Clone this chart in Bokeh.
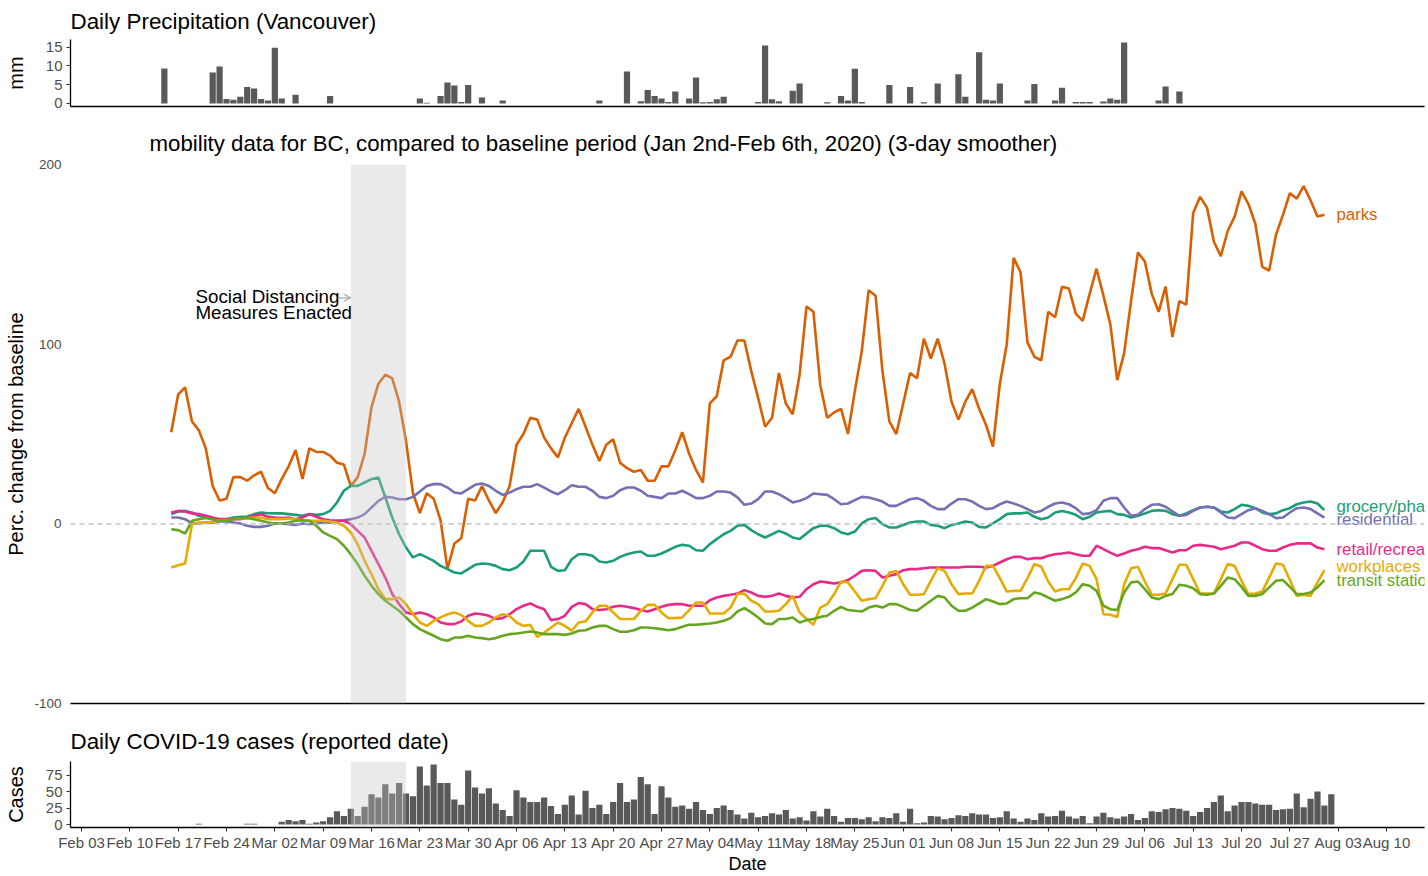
import pandas as pd
from bokeh.plotting import figure
from bokeh.layouts import column
from bokeh.models import Range1d, FixedTicker, BoxAnnotation, Span, Arrow, OpenHead
from bokeh.core.properties import value
from bokeh.embed import file_html
from bokeh.resources import INLINE

FONT = "Liberation Sans"

# ---------------- data ----------------
precip_start = "2020-02-15"
precip_mm = [
    9.3, 0, 0, 0, 0, 0, 0, 8.2, 9.8, 1.2,
    1.0, 1.8, 4.4, 4.0, 1.2, 0.8, 14.8, 1.3, 0, 2.3,
    0, 0, 0, 0, 2.0, 0, 0, 0, 0, 0,
    0, 0, 0, 0, 0, 0, 0, 1.3, 0.2, 0,
    2.0, 5.6, 4.8, 0.4, 4.9, 0, 1.6, 0, 0, 0.8,
    0, 0, 0, 0, 0, 0, 0, 0, 0, 0,
    0, 0, 0, 0.8, 0, 0, 0, 8.5, 0, 0.6,
    3.6, 2.0, 1.3, 0.4, 3.2, 0, 1.3, 6.9, 0.3, 0.4,
    1.1, 1.8, 0, 0, 0, 0, 0.4, 15.4, 1.1, 0.6,
    0, 3.4, 5.3, 0, 0, 0, 0.3, 0, 2.0, 0.8,
    9.2, 0.4, 0, 0, 0, 4.9, 0, 0, 4.4, 0,
    0.3, 0, 5.3, 0, 0, 7.8, 1.8, 0, 13.6, 1.0,
    0.8, 5.3, 0, 0, 0, 0.8, 5.2, 0, 0, 0.8,
    4.2, 0, 0.4, 0.4, 0.4, 0, 0.5, 1.3, 1.0, 16.2,
    0, 0, 0, 0, 0.8, 4.5, 0, 3.2,
]

cases_start = "2020-02-20"
cases = [
    1, 0, 0, 0, 0, 0, 0, 1, 1, 0,
    0, 0, 4, 7, 5, 7, 1, 3, 5, 11,
    20, 13, 24, 13, 27, 46, 41, 61, 47, 63,
    47, 43, 88, 59, 91, 63, 63, 38, 30, 82,
    56, 47, 55, 32, 22, 13, 52, 41, 34, 34,
    41, 28, 16, 30, 44, 15, 51, 25, 30, 16,
    34, 63, 34, 38, 72, 61, 16, 58, 41, 27,
    29, 24, 34, 22, 16, 25, 29, 22, 15, 9,
    18, 11, 13, 17, 15, 22, 9, 11, 6, 20,
    12, 24, 13, 4, 10, 10, 8, 11, 5, 11,
    10, 17, 4, 24, 2, 3, 13, 12, 8, 10,
    14, 13, 17, 15, 15, 10, 11, 20, 9, 4,
    9, 7, 17, 12, 13, 21, 12, 9, 13, 2,
    12, 18, 11, 9, 12, 16, 7, 10, 20, 19,
    23, 25, 24, 21, 13, 19, 25, 34, 44, 20,
    29, 34, 34, 32, 30, 30, 22, 23, 24, 47,
    26, 39, 50, 29, 46,
]

mobility_start = "2020-02-16"
parks = [
    51, 72, 76, 57, 52, 42, 21, 13, 14, 26, 26, 24, 27, 29, 20, 17, 25, 32, 41, 25,
    42, 40, 40, 38, 34, 33, 21, 26, 39, 65, 78, 83, 81, 68, 46, 17, 6, 17, 14, 2,
    -25, -11,
    -8, 14, 13, 21, 13, 6, 12, 21, 44, 50, 59, 58, 48, 42, 37, 48, 56, 64, 54, 44,
    35, 44, 47, 34, 31, 29, 30, 24, 24, 32, 32, 41, 51, 39, 30, 23, 67, 71, 91, 93,
    102, 102, 85,
    70, 54, 59, 84, 67, 61, 83, 121, 118, 77, 59, 62, 64, 50, 74, 96, 130, 127, 85, 57,
    50, 67, 84, 81, 103, 92, 103, 89, 68, 58, 68, 75, 64, 55, 43, 78, 100, 148, 140, 101,
    93, 91,
    118, 115, 132, 131, 117, 113, 128, 142, 127, 111, 80, 95, 124, 151, 146, 128, 118, 132, 104, 124,
    122, 173, 182, 176, 157, 149, 163, 171, 185, 178, 167, 143, 141, 161, 172, 184, 181, 188, 180, 171,
    172,
]
grocery = [
    5.4, 6.9, 7.2, 6.3, 4.5, 3.5, 2.6, 2.0, 2.6, 3.5, 3.9, 4.1, 5.4, 6.3, 5.9, 5.8, 5.8, 5.4, 5.0, 4.5,
    5.4, 5.0, 5.4, 7.2, 11.9, 18.4, 21.1, 21.1, 23.0, 24.9, 25.8, 14.7, 3.5, -5.8, -13.2, -18.7, -16.9, -18.7, -20.6, -23.4,
    -25.2, -27.1,
    -27.6, -25.2, -22.8, -22.1, -22.4, -23.4, -25.2, -25.8, -24.3, -21.0, -15.0, -15.0, -15.0, -23.9, -26.2, -25.8, -19.7, -16.9, -16.9, -17.8,
    -21.0, -21.5, -20.6, -18.4, -16.9, -16.0, -15.4, -17.8, -17.8, -16.5, -14.7, -12.8, -11.7, -12.2, -14.7, -15.0, -11.3, -8.5, -5.8, -3.9,
    -1.1, -0.6, -3.5,
    -5.8, -7.6, -5.8, -3.9, -5.4, -7.6, -8.5, -5.4, -2.4, -1.1, -1.1, -2.4, -4.8, -5.8, -4.3, 0.2, 2.6, 3.2, -0.2, -2.0,
    -2.0, -0.6, 0.7, 1.3, 1.3, -0.6, -1.1, -2.4, -0.6, 0.2, 1.3, 0.7, -1.7, -2.0, 0.2, 2.6, 5.4, 5.8, 5.8, 6.3,
    3.9, 2.6,
    3.5, 6.3, 7.2, 6.3, 5.0, 2.6, 3.9, 6.3, 6.9, 7.2, 5.4, 5.0, 3.5, 4.5, 5.8, 7.2, 7.6, 7.2, 5.4, 4.5,
    5.8, 7.6, 9.1, 9.5, 9.1, 6.9, 6.3, 8.2, 10.6, 10.0, 8.7, 6.3, 5.4, 5.8, 7.6, 8.7, 10.9, 11.9, 12.4, 11.3,
    7.6,
]
residential = [
    3.5, 3.5, 2.6, 0.2, 0.2, 0.7, 0.7, 1.3, 1.3, 0.7, 0.2, -1.1, -1.7, -1.7, -1.1, 0.2, 0.2, -0.2, -0.6, 0.2,
    -0.2, 0.2, 0.7, 0.7, 1.7, 2.0, 2.6, 3.5, 5.4, 9.1, 12.8, 15.0, 14.7, 13.7, 13.7, 15.0, 18.0, 21.1, 22.1, 22.1,
    20.2, 17.4,
    16.9, 19.3, 21.7, 22.4, 21.1, 18.4, 16.1, 17.4, 19.3, 20.6, 20.6, 22.1, 20.2, 18.0, 16.5, 18.7, 21.5, 20.6, 20.6, 18.4,
    15.0, 14.3, 15.6, 18.7, 20.2, 20.2, 18.4, 15.6, 15.0, 14.3, 16.9, 16.9, 18.4, 16.5, 14.3, 14.3, 15.6, 18.0, 18.0, 17.4,
    14.7, 10.6, 11.3,
    13.7, 18.0, 18.0, 16.5, 14.3, 11.9, 12.8, 14.3, 16.9, 16.5, 16.1, 13.7, 10.9, 11.3, 13.2, 15.0, 14.7, 13.7, 12.4, 10.0,
    10.0, 11.9, 13.7, 14.3, 12.8, 10.0, 8.2, 8.2, 11.3, 13.7, 13.7, 12.4, 10.0, 8.2, 8.7, 10.9, 12.4, 11.3, 10.0, 8.2,
    6.3, 7.2,
    9.5, 11.3, 11.9, 10.9, 8.7, 5.4, 5.8, 7.6, 12.8, 14.3, 14.3, 9.1, 4.5, 5.0, 8.2, 10.6, 10.9, 9.5, 6.9, 4.5,
    5.0, 7.2, 9.1, 9.5, 9.1, 6.3, 3.5, 3.2, 5.4, 7.6, 8.7, 7.2, 5.4, 3.2, 3.5, 6.3, 8.7, 9.1, 8.2, 5.8,
    3.5,
]
retail = [
    6.3, 7.2, 6.9, 5.8, 5.4, 4.5, 3.5, 2.6, 2.6, 2.6, 2.6, 3.5, 4.5, 5.4, 3.9, 3.5, 3.2, 3.5, 2.6, 3.5,
    5.4, 3.9, 2.6, 2.0, 1.7, 1.7, -0.2, -3.9, -7.6, -15.0, -22.4, -29.9, -39.1, -44.7, -49.3, -50.3, -49.3, -50.3, -52.1, -54.9,
    -55.8, -55.8,
    -54.3, -51.2, -49.9, -50.3, -51.2, -53.0, -52.5, -50.3, -47.5, -45.6, -44.3, -46.2, -47.5, -53.6, -53.0, -51.2, -46.2, -44.1, -44.7, -47.5,
    -48.0, -47.5, -46.2, -45.6, -46.2, -46.9, -48.0, -48.8, -47.5, -46.2, -45.1, -44.7, -44.7, -45.6, -45.6, -45.6, -42.5, -41.0, -40.1, -39.5,
    -38.8, -36.9, -38.2,
    -40.1, -40.6, -40.1, -38.8, -40.1, -41.0, -40.6, -36.4, -33.6, -32.1, -32.6, -33.2, -32.6, -31.3, -28.9, -26.2, -25.8, -26.2, -29.9, -28.9,
    -28.0, -25.8, -25.2, -25.2, -24.7, -24.3, -24.3, -24.3, -24.3, -24.3, -23.9, -23.9, -23.9, -24.3, -23.4, -21.5, -19.7, -18.4, -18.4, -19.7,
    -19.1, -19.1,
    -17.8, -16.9, -16.5, -16.0, -16.9, -17.8, -17.8, -12.2, -14.1, -16.0, -17.8, -16.5, -15.0, -14.1, -12.8, -13.5, -13.5, -14.7, -16.0, -14.7,
    -14.7, -12.2, -11.7, -12.2, -12.8, -14.1, -13.2, -12.2, -10.4, -10.4, -12.2, -14.1, -15.0, -15.0, -13.2, -11.7, -10.9, -10.9, -10.9, -13.2,
    -14.1,
]
workplaces = [
    -24.3, -23.0, -22.1, -0.2, 0.7, 0.7, 1.1, 1.7, 2.0, 2.6, 3.0, 3.2, 3.5, 3.5, 2.6, 2.6, 2.6, 3.0, 2.6, 2.0,
    1.7, 1.7, 1.7, 1.3, 0.7, -1.1, -4.8, -11.3, -20.6, -28.0, -36.4, -41.9, -41.9, -41.0, -44.7, -50.3, -54.9, -56.8, -54.0, -52.1,
    -50.3, -49.3,
    -50.8, -54.0, -56.8, -56.8, -54.9, -52.1, -50.3, -51.2, -54.9, -56.8, -56.2, -62.9, -60.5, -57.7, -54.9, -56.8, -59.5, -54.9, -54.3, -49.3,
    -45.6, -45.6, -49.3, -53.0, -53.0, -53.0, -48.4, -45.1, -45.1, -49.3, -52.5, -52.5, -52.1, -48.0, -43.8, -43.8, -49.9, -49.9, -49.9, -46.6,
    -39.1, -38.8, -42.8,
    -44.7, -48.8, -48.8, -48.4, -44.7, -40.1, -49.3, -53.0, -56.2, -46.6, -44.7, -39.1, -32.1, -32.6, -37.7, -42.8, -41.9, -41.4, -34.5, -27.1,
    -26.2, -33.6, -39.5, -39.5, -39.1, -31.7, -24.7, -26.2, -33.6, -39.1, -38.8, -38.8, -31.7, -23.4, -23.4, -30.2, -37.7, -37.3, -37.3, -30.2,
    -22.4, -23.9,
    -32.1, -37.7, -36.4, -36.4, -30.2, -22.1, -23.4, -30.8, -50.3, -50.6, -51.8, -33.6, -24.7, -23.9, -32.1, -39.5, -39.5, -38.8, -30.8, -22.8,
    -22.8, -30.8, -38.8, -38.8, -38.8, -30.8, -22.4, -23.4, -31.7, -39.1, -38.8, -37.7, -29.9, -22.1, -22.8, -31.3, -40.1, -39.5, -40.1, -32.6,
    -25.8,
]
transit = [
    -3.0, -3.5, -5.4, 1.7, 2.6, 3.2, 2.6, 1.7, 1.7, 2.6, 3.2, 3.2, 2.6, 1.7, 0.7, 0.2, 0.2, 0.7, 1.7, 2.0,
    1.7, -1.1, -4.8, -6.7, -8.5, -12.2, -16.9, -22.4, -28.9, -34.5, -39.1, -42.8, -45.6, -48.4, -52.1, -55.8, -58.6, -60.5, -62.3, -64.2,
    -65.1, -63.3,
    -63.3, -62.3, -63.3, -63.6, -64.2, -63.6, -62.3, -61.4, -61.0, -60.5, -59.9, -60.5, -61.4, -61.4, -61.4, -61.8, -61.0, -59.5, -59.2, -57.7,
    -56.8, -56.8, -58.6, -60.1, -60.1, -59.2, -57.7, -57.7, -58.1, -58.6, -59.2, -58.6, -57.3, -56.2, -56.2, -55.8, -55.5, -54.9, -54.0, -52.5,
    -48.8, -46.9, -49.3,
    -52.1, -55.5, -55.8, -53.0, -53.0, -52.1, -54.9, -53.6, -53.0, -51.8, -51.2, -48.4, -46.2, -48.0, -48.4, -48.8, -46.6, -45.6, -46.6, -44.7,
    -44.7, -46.2, -48.0, -48.4, -45.6, -42.8, -40.1, -41.0, -45.6, -48.4, -48.4, -46.6, -44.3, -41.9, -43.2, -44.7, -44.3, -41.9, -41.4, -41.4,
    -38.2, -39.1,
    -41.0, -42.8, -41.9, -40.6, -38.2, -33.6, -34.5, -37.3, -45.6, -47.5, -48.0, -38.2, -32.6, -32.1, -36.4, -41.0, -41.9, -40.1, -39.1, -33.9,
    -34.5, -35.8, -39.1, -39.5, -38.8, -34.5, -29.9, -30.8, -35.1, -40.1, -40.1, -39.1, -35.4, -31.7, -31.3, -35.1, -39.1, -39.1, -38.2, -35.4,
    -31.3,
]

series_names = ["parks", "grocery/pharmacy", "residential",
                "retail/recreation", "workplaces", "transit stations"]
series_values = [parks, grocery, residential, retail, workplaces, transit]
series_colors = ["#D95F02", "#1B9E77", "#7570B3", "#E7298A", "#E6AB02", "#66A61E"]

tick_dates = ["2020-02-03", "2020-02-10", "2020-02-17", "2020-02-24", "2020-03-02",
              "2020-03-09", "2020-03-16", "2020-03-23", "2020-03-30", "2020-04-06",
              "2020-04-13", "2020-04-20", "2020-04-27", "2020-05-04", "2020-05-11",
              "2020-05-18", "2020-05-25", "2020-06-01", "2020-06-08", "2020-06-15",
              "2020-06-22", "2020-06-29", "2020-07-06", "2020-07-13", "2020-07-20",
              "2020-07-27", "2020-08-03", "2020-08-10"]
tick_labels = ["Feb 03", "Feb 10", "Feb 17", "Feb 24", "Mar 02", "Mar 09", "Mar 16",
               "Mar 23", "Mar 30", "Apr 06", "Apr 13", "Apr 20", "Apr 27", "May 04",
               "May 11", "May 18", "May 25", "Jun 01", "Jun 08", "Jun 15", "Jun 22",
               "Jun 29", "Jul 06", "Jul 13", "Jul 20", "Jul 27", "Aug 03", "Aug 10"]

distancing_start = "2020-03-13"
distancing_end = "2020-03-21"

# ---------------- helpers ----------------
DAY = pd.Timedelta(days=1)


def ms(ts):
    return pd.Timestamp(ts).value / 1e6


def daily(start, n):
    return list(pd.date_range(start, periods=n, freq="D"))


x_lo = ms(pd.Timestamp("2020-02-03") - 1.593 * DAY)
x_hi = ms(pd.Timestamp("2020-02-03") + 194.5 * DAY)
x_range = Range1d(start=x_lo, end=x_hi)
BAR_W = 0.9 * 86400000


def base_fig(height, y_range, top, bottom, title, standoff, title_size="22.4px"):
    p = figure(width=1428, height=height, x_range=x_range, y_range=y_range,
               x_axis_type="datetime", output_backend="svg", toolbar_location=None,
               min_border_left=70, min_border_right=4, min_border_top=top,
               min_border_bottom=bottom, title=title)
    p.outline_line_color = None
    p.xgrid.visible = False
    p.ygrid.visible = False
    p.title.text_font = FONT
    p.title.text_font_size = title_size
    p.title.text_font_style = "normal"
    p.title.text_color = "black"
    p.title.align = "left"
    p.title.standoff = standoff
    for ax in p.axis:
        ax.axis_line_color = "black"
        ax.axis_line_width = 1.3
        ax.major_tick_line_color = "#333333"
        ax.major_tick_line_width = 1.1
        ax.minor_tick_line_color = None
        ax.major_tick_in = 0
        ax.major_tick_out = 4
        ax.major_label_text_font = FONT
        ax.major_label_text_font_size = "15px"
        ax.major_label_text_color = "#4D4D4D"
        ax.axis_label_text_font = FONT
        ax.axis_label_text_font_style = "normal"
        ax.axis_label_text_color = "black"
        ax.axis_label_text_font_size = "20px"
    return p


# ---------------- precipitation ----------------
p1 = base_fig(118, Range1d(-0.8, 17.0), 39, 12, "Daily Precipitation (Vancouver)", 11)
p1.vbar(x=daily(precip_start, len(precip_mm)), top=precip_mm, width=BAR_W,
        fill_color="#595959", line_color=None)
p1.xaxis.ticker = FixedTicker(ticks=[])
p1.yaxis.ticker = FixedTicker(ticks=[0, 5, 10, 15])
p1.yaxis.axis_label = "mm"
p1.yaxis.major_label_standoff = 4
p1.yaxis.axis_label_standoff = 16

# ---------------- mobility ----------------
p2 = base_fig(597, Range1d(-100, 200), 46, 12,
              "mobility data for BC, compared to baseline period (Jan 2nd-Feb 6th, 2020) (3-day smoother)",
              17.5, "22.25px")
p2.title.offset = 79
p2.xaxis.ticker = FixedTicker(ticks=[])
p2.yaxis.ticker = FixedTicker(ticks=[-100, 0, 100, 200])
p2.yaxis.major_label_overrides = {-100: "-100", 0: "0", 100: "100", 200: "200"}
p2.yaxis.axis_line_color = None
p2.yaxis.major_tick_line_color = None
p2.yaxis.major_tick_out = 0
p2.yaxis.major_label_standoff = 9
p2.yaxis.major_label_text_font_size = "13.5px"
p2.yaxis.axis_label = "Perc. change from baseline"
p2.yaxis.axis_label_standoff = 4

p2.add_layout(Span(location=0, dimension="width", line_color="#B4B8C4",
                   line_dash="5 4", line_width=1.2))
mob_dates = daily(mobility_start, len(parks))
for vals, col in zip(series_values, series_colors):
    p2.line(x=mob_dates, y=vals, line_color=col, line_width=2.6)

label_x = mob_dates[-1] + 1.75 * DAY
label_nudge = [0, 2.0, -1.3, -0.4, 1.9, -0.4]
p2.text(x=[label_x] * len(series_names),
        y=[v[-1] + n for v, n in zip(series_values, label_nudge)],
        text=series_names, text_color=series_colors,
        text_font=value(FONT), text_font_size="16.8px",
        text_align="left", text_baseline="middle")

p2.add_layout(BoxAnnotation(left=ms(distancing_start), right=ms(distancing_end),
                            fill_color="#C4C4C4", fill_alpha=0.35, line_color=None))

annot_x = pd.Timestamp("2020-02-19 12:00")
p2.text(x=[annot_x, annot_x], y=[126.3, 117.4],
        text=["Social Distancing", "Measures Enacted"], text_color="black",
        text_font=value(FONT), text_font_size="18.8px",
        text_align="left", text_baseline="middle")
p2.add_layout(Arrow(end=OpenHead(size=7, line_color="#A8A8A8", line_width=1.2),
                    x_start=ms(pd.Timestamp(distancing_start) - 1.75 * DAY), y_start=125.8,
                    x_end=ms(distancing_start), y_end=125.8,
                    line_color="#A8A8A8", line_width=1.2))

# ---------------- cases ----------------
p3 = base_fig(161, Range1d(-4.55, 95.55), 46, 48, "Daily COVID-19 cases (reported date)", 16)
p3.vbar(x=daily(cases_start, len(cases)), top=cases, width=BAR_W,
        fill_color="#595959", line_color=None)
p3.add_layout(BoxAnnotation(left=ms(distancing_start), right=ms(distancing_end),
                            fill_color="#C4C4C4", fill_alpha=0.35, line_color=None))
tick_ms = [ms(d) for d in tick_dates]
p3.xaxis.ticker = FixedTicker(ticks=tick_ms)
p3.xaxis.major_label_overrides = {t: l for t, l in zip(tick_ms, tick_labels)}
p3.xaxis.major_label_standoff = 2
p3.xaxis.axis_label = "Date"
p3.xaxis.axis_label_text_font_size = "18px"
p3.xaxis.axis_label_standoff = 0
p3.yaxis.ticker = FixedTicker(ticks=[0, 25, 50, 75])
p3.yaxis.axis_label = "Cases"
p3.yaxis.major_label_standoff = 4
p3.yaxis.axis_label_standoff = 16

layout = column(p1, p2, p3)
open("out.html", "w").write(file_html(layout, INLINE))
